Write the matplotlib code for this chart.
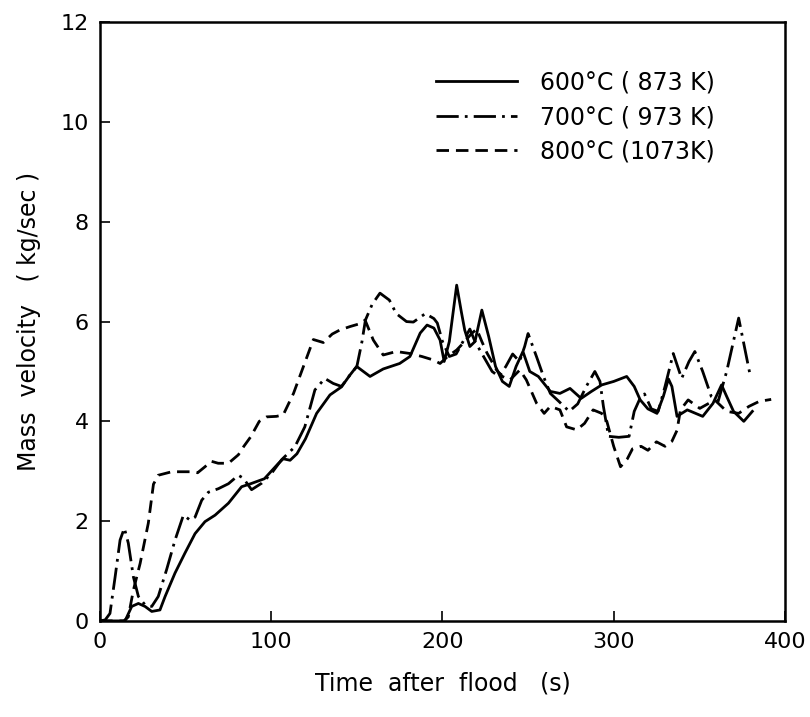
import matplotlib
matplotlib.use("Agg")
import matplotlib.pyplot as plt

# 600 C (873 K) - solid
t_600 = [0, 14, 15, 18.5, 22.4, 26.3, 30.2, 35, 38, 43.8, 49.6, 55.5, 61.3, 67.2, 75, 82.7,
         88, 96, 100, 104, 107, 111, 115, 120, 126.5, 134.3, 141, 146, 149.9, 157.7, 165.4,
         175, 181, 187, 191, 195, 198.6, 201, 204, 208.3, 211, 213, 216, 219, 223, 227, 231,
         235, 239, 243, 247, 251, 256, 263, 268.6, 274.5, 281, 287, 293, 300, 307.6, 312,
         315.5, 320, 325.3, 329, 332, 334, 337, 343, 352, 358, 363, 366, 370, 376, 381]
m_600 = [0, 0, 0.03, 0.29, 0.35, 0.29, 0.19, 0.22, 0.49, 0.96, 1.36, 1.75, 1.99, 2.12, 2.36, 2.69,
         2.75, 2.85, 3.0, 3.15, 3.25, 3.22, 3.35, 3.65, 4.16, 4.53, 4.69, 4.93, 5.1, 4.9, 5.05,
         5.16, 5.3, 5.77, 5.93, 5.87, 5.63, 5.2, 5.6, 6.73, 6.2, 5.83, 5.5, 5.6, 6.23, 5.7, 5.1,
         4.8, 4.7, 5.1, 5.4, 5.0, 4.9, 4.6, 4.56, 4.66, 4.46, 4.6, 4.73, 4.8, 4.9, 4.7,
         4.43, 4.25, 4.16, 4.5, 4.85, 4.7, 4.1, 4.23, 4.1, 4.36, 4.73, 4.5, 4.2, 4.0, 4.2]

# 700 C (973 K) - dash-dot
t_700 = [0, 3, 5.8, 8.8, 11.7, 14.2, 16.5, 19.5, 22.4, 26.3, 30.2, 34, 38.9, 43.8, 48.7, 52.6,
         55.5, 59.4, 63.3, 69.1, 75, 80.8, 83.7, 88.5, 94.4, 100.2, 106, 113.8, 119.6, 125.5,
         131.3, 136.2, 141, 146, 150, 153, 155, 159, 163.5, 169, 173, 179, 183, 190, 195, 197,
         200, 204, 208, 212, 216, 219, 224, 229, 233, 237, 241, 245, 248, 250, 255, 259, 263,
         268, 274, 279, 284, 289, 292, 294, 297, 303, 309, 312, 315, 318, 322, 326, 330, 334.8,
         339.7, 344, 347.4, 352, 357, 361, 366, 373, 379.5]
m_700 = [0, 0.02, 0.15, 0.88, 1.62, 1.86, 1.56, 0.88, 0.49, 0.32, 0.29, 0.49, 1.03, 1.62, 2.12, 2.02,
         2.08, 2.42, 2.58, 2.65, 2.75, 2.92, 2.86, 2.63, 2.76, 2.96, 3.23, 3.49, 3.89, 4.63,
         4.86, 4.76, 4.7, 4.93, 5.1, 5.6, 6.03, 6.35, 6.57, 6.43, 6.16, 6.0, 5.99, 6.16, 6.06, 5.97,
         5.6, 5.3, 5.35, 5.6, 5.85, 5.6, 5.3, 5.0, 4.9, 5.1, 5.35, 5.2, 5.5, 5.76, 5.29, 4.9, 4.56,
         4.4, 4.2, 4.35, 4.7, 5.0, 4.8, 4.3, 3.7, 3.68, 3.7, 4.2, 4.43, 4.55, 4.25, 4.2, 4.7, 5.36,
         4.86, 5.2, 5.4, 5.0, 4.5, 4.4, 5.0, 6.07, 4.96]

# 800 C (1073 K) - dashed
t_800 = [0, 14, 16.5, 19.5, 23.4, 28.2, 31.2, 34, 41.9, 53.6, 57, 61.3, 65, 69, 75, 80.8, 84, 88,
         93, 97.3, 103, 107, 113, 118.8, 124.6, 130.4, 135.6, 140, 146, 152, 154.8, 159.6, 165.4,
         173, 181, 188, 194.7, 198.6, 203, 208.3, 213, 217, 220, 223, 226, 231.6, 235, 239.4,
         245.2, 249, 255, 259.4, 263, 268.6, 272.5, 278.4, 283, 288, 293, 296, 300, 304, 308,
         311, 316, 320, 325, 330, 334, 337, 339, 343.5, 350.3, 355, 359, 366, 373, 379, 385, 392]
m_800 = [0, 0, 0.08, 0.62, 1.15, 1.96, 2.74, 2.92, 2.99, 2.99, 2.97, 3.09, 3.2, 3.16, 3.16, 3.33, 3.5, 3.69,
         4.0, 4.09, 4.1, 4.13, 4.56, 5.1, 5.64, 5.58, 5.75, 5.83, 5.9, 5.96, 6.03, 5.63, 5.33,
         5.4, 5.36, 5.3, 5.23, 5.16, 5.3, 5.43, 5.6, 5.76, 5.85, 5.6, 5.37, 5.03, 4.9, 4.83,
         5.03, 4.83, 4.36, 4.16, 4.3, 4.23, 3.89, 3.83, 3.96, 4.23, 4.16, 4.0, 3.5, 3.09, 3.25,
         3.45, 3.5, 3.42, 3.59, 3.5, 3.6, 3.82, 4.23, 4.43, 4.26, 4.35, 4.43, 4.2, 4.16, 4.3, 4.4, 4.44]

labels = ["600°C ( 873 K)", "700°C ( 973 K)", "800°C (1073K)"]

fig = plt.figure(figsize=(8.1, 7.17), dpi=100)
ax = fig.add_axes([0.1235, 0.134, 0.8455, 0.835])

kw = dict(color="black", lw=2.0, solid_joinstyle="round", dash_joinstyle="round")
ax.plot(t_600, m_600, linestyle="-", label=labels[0], **kw)
ax.plot(t_700, m_700, linestyle=(0, (8, 2.2, 1, 2.2)), label=labels[1], **kw)
ax.plot(t_800, m_800, linestyle=(0, (4.5, 2.5)), label=labels[2], **kw)

ax.set_xlim(0, 400)
ax.set_ylim(0, 12)
ax.set_xticks([0, 100, 200, 300, 400])
ax.set_yticks([0, 2, 4, 6, 8, 10, 12])
ax.tick_params(direction="in", length=7, width=1.2, labelsize=16, top=False, right=False, pad=8)
for s in ax.spines.values():
    s.set_linewidth(1.8)

ax.set_xlabel("Time  after  flood   (s)", fontsize=17, labelpad=14)
ax.set_ylabel("Mass  velocity   ( kg/sec )", fontsize=17, labelpad=14)

ax.legend(loc="upper left", bbox_to_anchor=(0.46, 0.955), frameon=False, fontsize=17,
          handlelength=3.4, handletextpad=1.0, labelspacing=0.45)

fig.savefig("out.png", dpi=100)
